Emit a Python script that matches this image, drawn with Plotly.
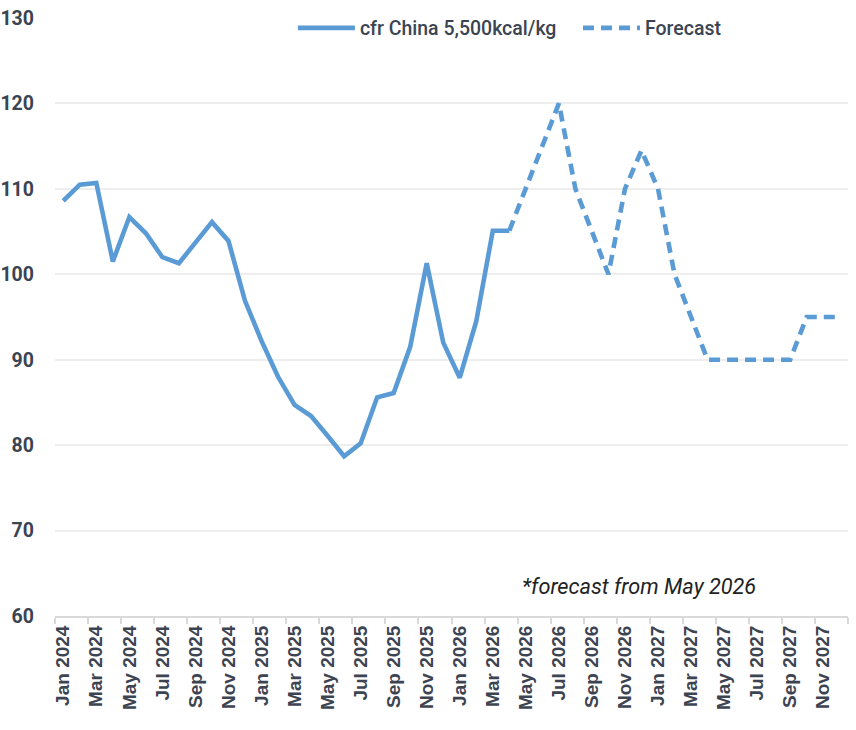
import plotly.graph_objects as go

months = [
    "Jan 2024", "Feb 2024", "Mar 2024", "Apr 2024", "May 2024", "Jun 2024",
    "Jul 2024", "Aug 2024", "Sep 2024", "Oct 2024", "Nov 2024", "Dec 2024",
    "Jan 2025", "Feb 2025", "Mar 2025", "Apr 2025", "May 2025", "Jun 2025",
    "Jul 2025", "Aug 2025", "Sep 2025", "Oct 2025", "Nov 2025", "Dec 2025",
    "Jan 2026", "Feb 2026", "Mar 2026", "Apr 2026", "May 2026", "Jun 2026",
    "Jul 2026", "Aug 2026", "Sep 2026", "Oct 2026", "Nov 2026", "Dec 2026",
    "Jan 2027", "Feb 2027", "Mar 2027", "Apr 2027", "May 2027", "Jun 2027",
    "Jul 2027", "Aug 2027", "Sep 2027", "Oct 2027", "Nov 2027", "Dec 2027",
]

actual_months = months[:28]
actual_values = [
    108.6, 110.5, 110.7, 101.5, 106.7, 104.8, 102.0, 101.3, 103.7, 106.1,
    103.9, 96.9, 92.2, 88.0, 84.7, 83.4, 81.1, 78.7, 80.2, 85.6,
    86.1, 91.5, 101.3, 92.0, 87.9, 94.5, 105.1, 105.1,
]

forecast_months = months[27:]
forecast_values = [
    105.1, 110, 115, 120, 110, 105, 100, 110, 114.5, 110,
    100, 95, 90, 90, 90, 90, 90, 90, 95, 95, 95,
]

y_ticks = [60, 70, 80, 90, 100, 110, 120, 130]

LINE = "#5B9BD5"
TEXT = "#3B4452"

fig = go.Figure()
fig.add_trace(go.Scatter(
    x=actual_months, y=actual_values, mode="lines",
    name="cfr China 5,500kcal/kg", legend="legend",
    line=dict(color=LINE, width=4.6),
))
fig.add_trace(go.Scatter(
    x=forecast_months, y=forecast_values, mode="lines",
    name="Forecast", legend="legend2",
    line=dict(color=LINE, width=4.6, dash="11px,7px"),
))

fig.add_annotation(
    text="*forecast from May 2026",
    xref="paper", yref="paper", x=0.8865, y=0.0485,
    xanchor="right", yanchor="middle", showarrow=False,
    font=dict(family="Roboto", size=21.7, color="#222222", style="italic"),
)

legend_style = dict(
    orientation="h", xanchor="left", y=0.983, yanchor="middle",
    font=dict(family="Roboto", size=19.5, color=TEXT, weight=500),
    bgcolor="rgba(0,0,0,0)", itemwidth=57,
)

fig.update_layout(
    width=856, height=730,
    margin=dict(l=55, r=8, t=18, b=114),
    paper_bgcolor="white", plot_bgcolor="white",
    showlegend=True,
    legend=dict(x=0.300, **legend_style),
    legend2=dict(x=0.6595, **legend_style),
    xaxis=dict(
        type="category", categoryorder="array", categoryarray=months,
        range=[-0.5, 47.5], tickmode="linear", tick0=0, dtick=2,
        tickson="boundaries", ticks="outside", ticklen=6, tickcolor="#D9D9D9",
        tickwidth=1.5, automargin=False,
        showline=True, linecolor="#D9D9D9", linewidth=2,
        showgrid=False, tickangle=-90,
        tickfont=dict(family="Liberation Sans", size=19, color="#3D4451", weight="bold"),
    ),
    yaxis=dict(
        range=[60, 130], tickvals=y_ticks,
        showgrid=True, gridcolor="#EEEEEE", gridwidth=1.5,
        zeroline=False, showline=False, ticks="",
        ticklabelstandoff=20, automargin=False,
        tickfont=dict(family="Roboto", size=19.5, color=TEXT, weight="bold"),
    ),
)

fig.write_html(
    "out.html",
    config={"displayModeBar": False},
    post_script="document.body.style.margin='0';",
)
